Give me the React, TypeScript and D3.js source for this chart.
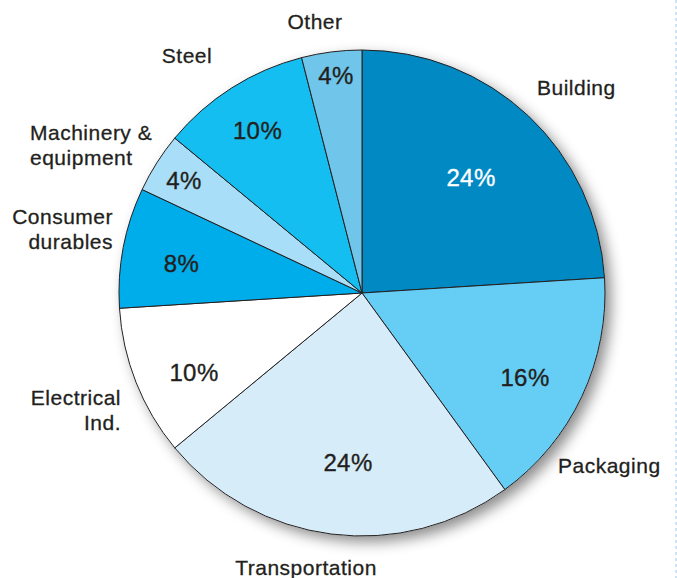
import React from "react";
import * as d3 from "d3";

const categories = ["Building", "Packaging", "Transportation", "Electrical Ind.", "Consumer durables", "Machinery & equipment", "Steel", "Other"];
const values = [24, 16, 24, 10, 8, 4, 10, 4];
const colors = ["#0089C2", "#66CEF5", "#D6EDF9", "#FFFFFF", "#00ADEB", "#A8DEF7", "#14BEF0", "#70C5EA"];
const valueTextColors = ["#FFFFFF", "#231F20", "#231F20", "#231F20", "#231F20", "#231F20", "#231F20", "#231F20"];
// outer category label lines
const labelLines = [["Building"], ["Packaging"], ["Transportation"], ["Electrical", "Ind."], ["Consumer", "durables"], ["Machinery &", "equipment"], ["Steel"], ["Other"]];

// layout (positions of text), kept apart from the data
const valueLabelPos: [number, number][] = [
  [471, 177.5], [525, 377.5], [348, 462], [194, 372], [181.5, 263], [184, 180.5], [257.5, 130], [336, 75],
];
const labelLayout: { x: number; y: number; anchor: string }[] = [
  { x: 537, y: 95, anchor: "start" },
  { x: 558, y: 473, anchor: "start" },
  { x: 306, y: 575, anchor: "middle" },
  { x: 121, y: 405, anchor: "end" },
  { x: 113, y: 224, anchor: "end" },
  { x: 30, y: 140, anchor: "start" },
  { x: 187, y: 63, anchor: "middle" },
  { x: 315, y: 29, anchor: "middle" },
];

const W = 677;
const H = 578;
const cx = 362;
const cy = 293;
const R = 243;

export default function App() {
  const pie = d3.pie<number>().sort(null).value((d) => d);
  const arcs = pie(values);
  const arc = d3.arc<d3.PieArcDatum<number>>().innerRadius(0).outerRadius(R);
  const font = "'Liberation Sans', Arial, Helvetica, sans-serif";
  return (
    <div style={{ position: "absolute", left: 0, top: 0 }}>
      <svg width={W} height={H} style={{ display: "block" }}>
        <defs>
          <filter id="sh" x="-20%" y="-20%" width="150%" height="150%">
            <feDropShadow dx="6" dy="6" stdDeviation="7" floodColor="#000" floodOpacity="0.45" />
          </filter>
        </defs>
        <rect width={W} height={H} fill="#fff" />
        <line x1={676} x2={676} y1={0} y2={H} stroke="#9CC9E8" strokeWidth={1} strokeDasharray="3,3" />
        <g transform={`translate(${cx},${cy})`}>
          <circle r={R} fill="#fff" filter="url(#sh)" />
          {arcs.map((a, i) => (
            <path key={i} d={arc(a) || ""} fill={colors[i]} stroke="#231F20" strokeWidth={1} strokeLinejoin="round" />
          ))}
        </g>
        {arcs.map((a, i) => (
          <text key={"v" + i} x={valueLabelPos[i][0]} y={valueLabelPos[i][1]} dy="0.36em" textAnchor="middle"
            fontFamily={font} fontSize={24} fill={valueTextColors[i]} stroke={valueTextColors[i]} strokeWidth={0.35}
            letterSpacing={0.4}>
            {values[i]}%
          </text>
        ))}
        {labelLines.map((lines, i) => (
          <text key={"l" + i} x={labelLayout[i].x} y={labelLayout[i].y} textAnchor={labelLayout[i].anchor}
            fontFamily={font} fontSize={21} fill="#231F20" stroke="#231F20" strokeWidth={0.3} letterSpacing={0.5}>
            {lines.map((ln, j) => (
              <tspan key={j} x={labelLayout[i].x} dy={j === 0 ? 0 : 25}>{ln}</tspan>
            ))}
          </text>
        ))}
      </svg>
    </div>
  );
}
